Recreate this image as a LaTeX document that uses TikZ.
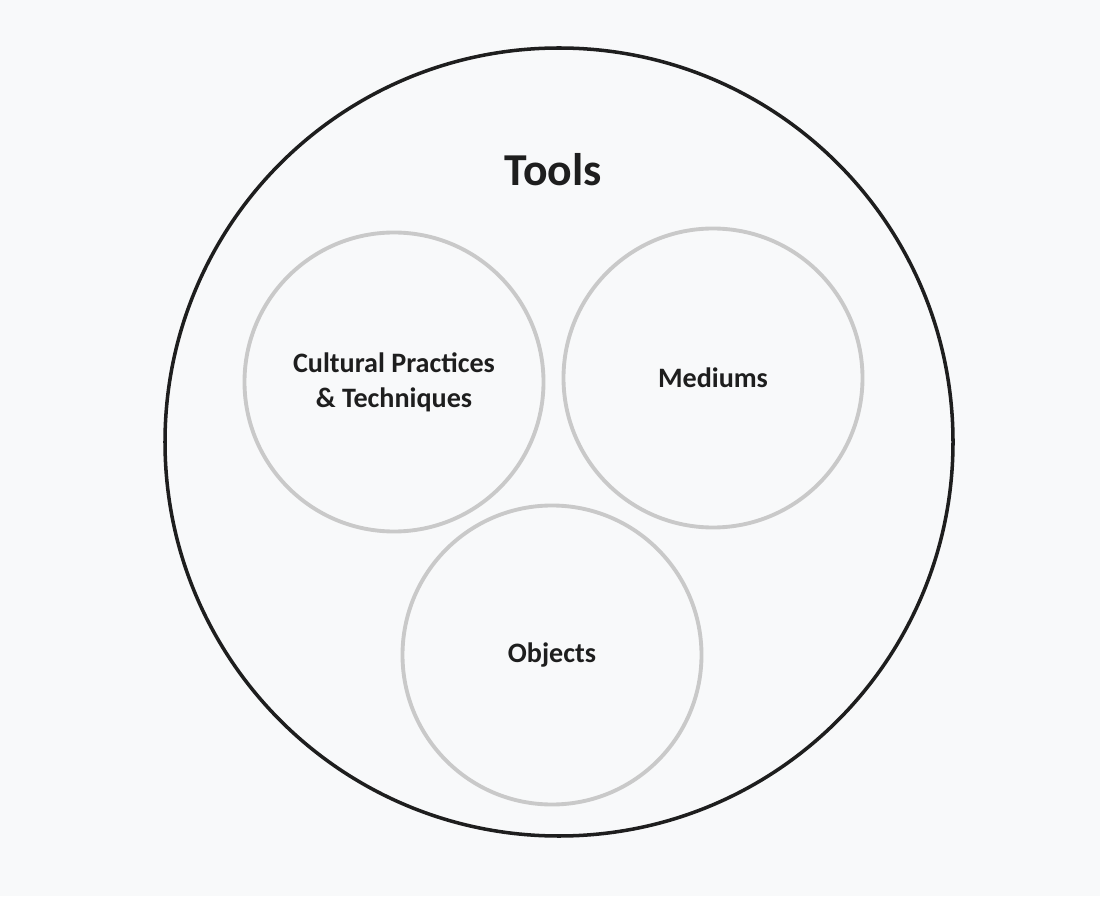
\documentclass[tikz,border=0pt]{standalone}
\usepackage{fontspec}
\setmainfont{Carlito}
\usepackage{tikz}
\definecolor{inkblack}{HTML}{1E1E1E}
\definecolor{ringgray}{HTML}{C9C9C9}
\definecolor{paper}{HTML}{F8F9FA}

\begin{document}
\begin{tikzpicture}[
  outerring/.style={draw=inkblack, circle, line width=2pt,
              minimum size=15.76cm, inner sep=0pt},
  innerring/.style={draw=ringgray, circle, line width=2.2pt,
              minimum size=5.98cm, inner sep=0pt, align=center,
              text=inkblack, font=\fontsize{16}{20}\selectfont\bfseries},
  titletext/.style={text=inkblack, font=\fontsize{26}{30}\selectfont\bfseries}
]
\fill[paper] (0,0) rectangle (22,17.92);
\useasboundingbox (0,0) rectangle (22,17.92);

\node[outerring] (nouter) at (11.18, 9.08) {};
\node[titletext] (ntools) at (11.06,14.52) {Tools};

\node[innerring] (ncult) at ( 7.88,10.28) {Cultural Practices\\\& Techniques};
\node[innerring] (nmed)  at (14.26,10.36) {Mediums};
\node[innerring] (nobj)  at (11.04, 4.82) {Objects};
\end{tikzpicture}
\end{document}
